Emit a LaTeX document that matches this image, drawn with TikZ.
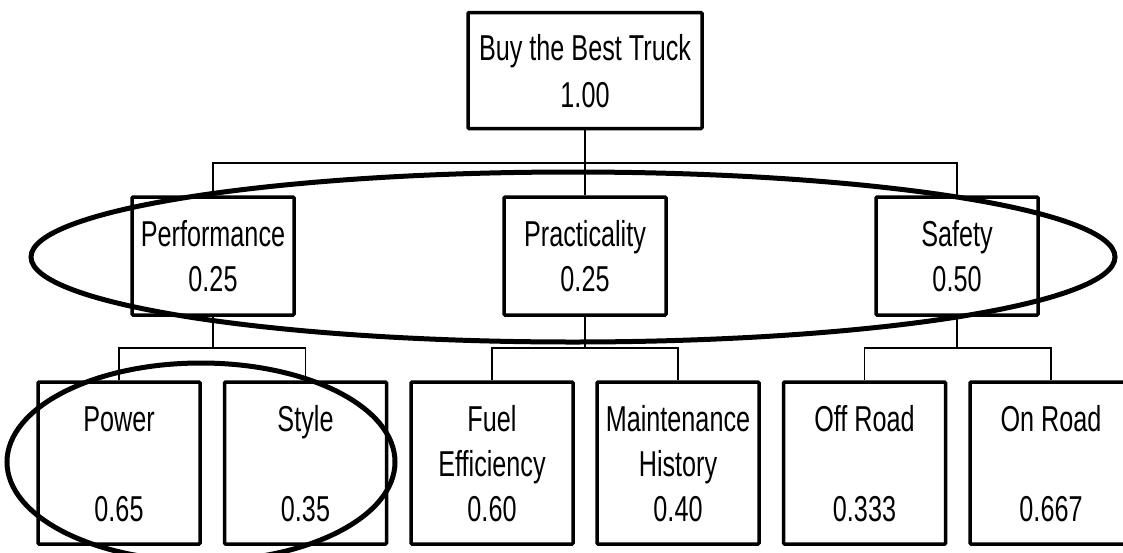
\documentclass[tikz,border=0pt]{standalone}
\usepackage{fontspec}
\setmainfont{Liberation Sans}[FakeStretch=0.70]
% line strut: keeps cap-height text optically centred in its box
\newcommand\capstrut{\rule[-6pt]{0pt}{38pt}}
\begin{document}
\begin{tikzpicture}[x=1pt,y=-1pt,
  box/.style={draw=black,fill=white,line width=3.5pt,rounded corners=1pt,
    inner sep=0pt,align=center,font=\fontsize{36}{45}\selectfont},
  topbox/.style={box,minimum width=234pt,minimum height=116pt,
    font=\fontsize{36}{47}\selectfont},
  midbox/.style={box,minimum width=162pt,minimum height=118pt},
  leafbox/.style={box,minimum width=162pt,minimum height=162pt},
  link/.style={draw=black,line width=1.8pt},
  ring/.style={draw=black,line width=5pt}]
\useasboundingbox (0,0) rectangle (1123,552);

% goal
\node[topbox] (goal) at (585,70.5) {\capstrut Buy the Best Truck\\\capstrut 1.00};

% criteria
\node[midbox] (perf) at (213,256) {\capstrut Performance\\\capstrut 0.25};
\node[midbox] (prac) at (585,256) {\capstrut Practicality\\\capstrut 0.25};
\node[midbox] (safe) at (957,256) {\capstrut Safety\\\capstrut 0.50};

% sub-criteria
\node[leafbox] (power) at (119,463) {\capstrut Power\\\capstrut\\\capstrut 0.65};
\node[leafbox] (style) at (305.5,463) {\capstrut Style\\\capstrut\\\capstrut 0.35};
\node[leafbox] (fuel) at (492,463) {\capstrut Fuel\\\capstrut Efficiency\\\capstrut 0.60};
\node[leafbox] (maint) at (678,463) {\capstrut Maintenance\\\capstrut History\\\capstrut 0.40};
\node[leafbox] (off) at (864.5,463) {\capstrut Off Road\\\capstrut\\\capstrut 0.333};
\node[leafbox] (on) at (1051,463) {\capstrut On Road\\\capstrut\\\capstrut 0.667};

% goal to criteria
\coordinate (g0) at (goal.south |- 0,163);
\draw[link] (goal.south) -- (g0);
\draw[link] (perf.north) |- (g0) -| (safe.north);
\draw[link] (g0) -- (prac.north);

% criteria to sub-criteria
\coordinate (p0) at (perf.south |- 0,348);
\draw[link] (perf.south) -- (p0);
\draw[link] (power.north) |- (p0) -| (style.north);

\coordinate (q0) at (prac.south |- 0,348);
\draw[link] (prac.south) -- (q0);
\draw[link] (fuel.north) |- (q0) -| (maint.north);

\coordinate (s0) at (safe.south |- 0,348);
\draw[link] (safe.south) -- (s0);
\draw[link] (off.north) |- (s0) -| (on.north);

% highlighted groups
\draw[ring] (573,257) ellipse [x radius=542, y radius=85];
\draw[ring] (201,462) ellipse [x radius=194, y radius=99];
\end{tikzpicture}
\end{document}
